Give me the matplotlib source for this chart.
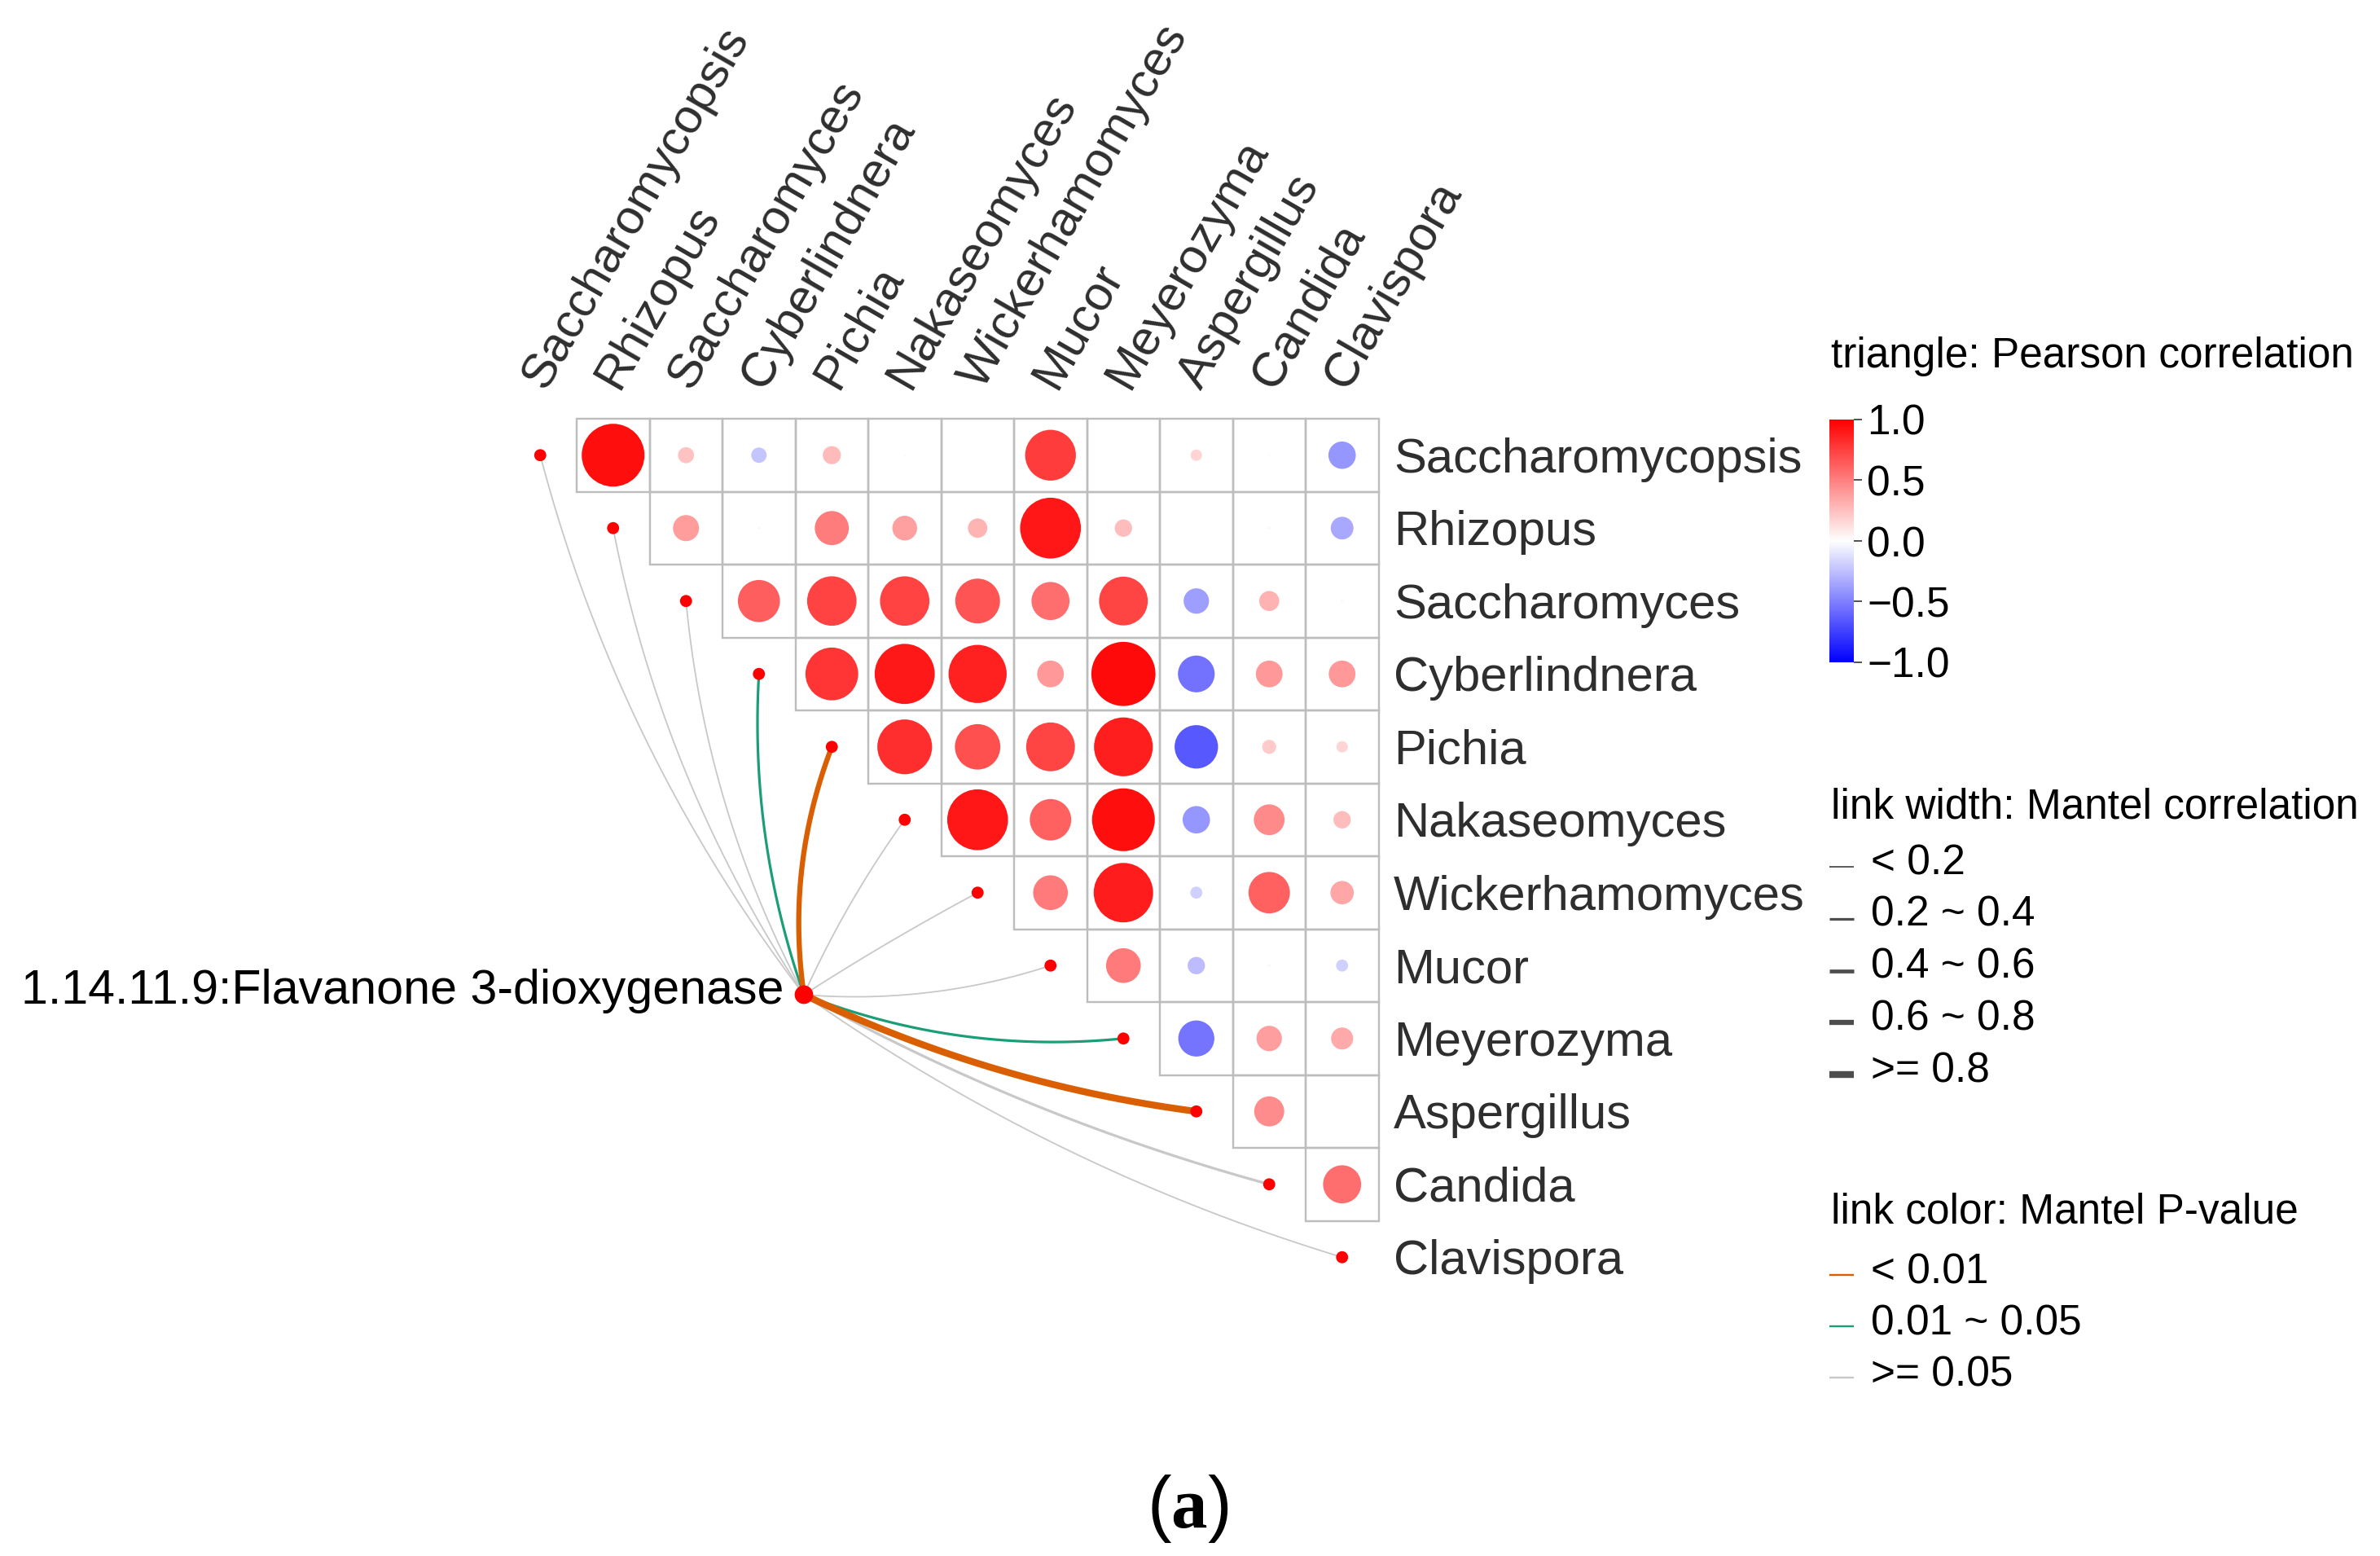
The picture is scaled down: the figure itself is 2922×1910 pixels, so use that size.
import numpy as np
import matplotlib
matplotlib.use("Agg")
import matplotlib.pyplot as plt
from matplotlib.colors import LinearSegmentedColormap, Normalize
from matplotlib.patches import Circle, Rectangle
from matplotlib.cm import ScalarMappable

plt.rcParams["font.family"] = ["Liberation Sans", "DejaVu Sans"]
plt.rcParams["mathtext.fontset"] = "custom"
plt.rcParams["mathtext.rm"] = "Liberation Serif"
plt.rcParams["mathtext.bf"] = "Liberation Serif:bold"

# DATA
genera = ["Saccharomycopsis", "Rhizopus", "Saccharomyces", "Cyberlindnera", "Pichia",
          "Nakaseomyces", "Wickerhamomyces", "Mucor", "Meyerozyma", "Aspergillus",
          "Candida", "Clavispora"]

# Pearson r, upper triangle: row i holds genera[i] vs genera[i+1:]
corr_rows = [
    [0.94, 0.24, -0.23, 0.27, 0.03, 0.02, 0.76, 0.02, 0.17, 0.03, -0.41],
    [0.39, 0.04, 0.51, 0.37, 0.29, 0.91, 0.26, 0.01, 0.04, -0.34],
    [0.63, 0.74, 0.74, 0.67, 0.57, 0.73, -0.38, 0.30, 0.04],
    [0.79, 0.90, 0.87, 0.40, 0.96, -0.55, 0.40, 0.40],
    [0.82, 0.68, 0.73, 0.88, -0.65, 0.21, 0.17],
    [0.91, 0.62, 0.94, -0.41, 0.46, 0.26],
    [0.52, 0.89, -0.18, 0.62, 0.35],
    [0.52, -0.26, 0.04, -0.18],
    [-0.54, 0.38, 0.33],
    [0.45, 0.01],
    [0.57],
]

enzyme = "1.14.11.9:Flavanone 3-dioxygenase"
mantel_r = [0.12, 0.10, 0.14, 0.31, 0.65, 0.15, 0.13, 0.11, 0.28, 0.85, 0.25, 0.12]
mantel_p = [0.21, 0.35, 0.18, 0.03, 0.004, 0.12, 0.27, 0.40, 0.02, 0.002, 0.08, 0.50]

width_bins = [0.2, 0.4, 0.6, 0.8]
width_labels = ["< 0.2", "0.2 ~ 0.4", "0.4 ~ 0.6", "0.6 ~ 0.8", ">= 0.8"]
p_bins = [0.01, 0.05]
p_labels = ["< 0.01", "0.01 ~ 0.05", ">= 0.05"]

# STYLE / LAYOUT (pixels)
W, H, DPI = 2922, 1910, 200
cell = 89.5
gx0, gy0 = 708, 514
max_d = 82
src = (987, 1221)
link_curv = [0.10, 0.10, 0.10, 0.10, 0.13, 0.05, 0.02, -0.10, -0.12, -0.08, -0.06, -0.08]
link_widths = [1.8, 3.2, 4.7, 6.3, 8.4]
link_colors = ["#D95F02", "#1B9E77", "#C8C8C8"]
grid_col = "#BDBDBD"
label_col = "#2E2E2E"


def pt(v):
    return v * 72 / DPI


def cx(k):
    return gx0 + (k - 1) * cell + cell / 2


def cy(k):
    return gy0 + k * cell + cell / 2


cmap = LinearSegmentedColormap.from_list("bwr_", ["#0000FF", "#FFFFFF", "#FF0000"])
norm = Normalize(-1, 1)

fig = plt.figure(figsize=(W / DPI, H / DPI), dpi=DPI)
ax = fig.add_axes([0, 0, 1, 1])
ax.set_xlim(0, W)
ax.set_ylim(H, 0)
ax.axis("off")

# correlation triangle
for i, row in enumerate(corr_rows):
    for off, r in enumerate(row):
        j = i + 1 + off
        ax.add_patch(Rectangle((gx0 + (j - 1) * cell, gy0 + i * cell), cell, cell,
                               fill=False, edgecolor=grid_col, lw=pt(2.4), zorder=1))
        ax.add_patch(Circle((cx(j), cy(i)), max_d / 2 * abs(r),
                            facecolor=cmap(norm(r)), edgecolor="none", zorder=2))

# axis labels
for k, g in enumerate(genera):
    ax.text(cx(k) + 6, 480, g, rotation=60, rotation_mode="anchor", ha="left",
            va="baseline", fontsize=21.5, color=label_col)
    ax.text(1711, cy(k) + 21, g, ha="left", va="baseline", fontsize=21.5, color=label_col)

# mantel links
w_idx = np.digitize(mantel_r, width_bins)
c_idx = np.digitize(mantel_p, p_bins)
t = np.linspace(0, 1, 80)[:, None]
order = np.argsort(-c_idx, kind="stable")
for k in order:
    p0 = np.array(src, float)
    p2 = np.array([cx(k), cy(k)])
    d = p2 - p0
    L = np.hypot(*d)
    nrm = np.array([d[1], -d[0]]) / L
    p1 = (p0 + p2) / 2 + link_curv[k] * L * nrm
    pts = (1 - t) ** 2 * p0 + 2 * (1 - t) * t * p1 + t ** 2 * p2
    ax.plot(pts[:, 0], pts[:, 1], color=link_colors[c_idx[k]], lw=pt(link_widths[w_idx[k]]),
            solid_capstyle="round", zorder=3)
    ax.add_patch(Circle((cx(k), cy(k)), 6, color="#FF0000", zorder=4))
ax.add_patch(Circle(src, 10, color="#FF0000", zorder=4))
ax.text(962, 1232, enzyme, ha="right", va="baseline", fontsize=21.3, color="black")

# legends
ax.text(2248, 451, "triangle: Pearson correlation", fontsize=18.5, va="baseline")
ax.text(2248, 1004, "link width: Mantel correlation", fontsize=18.5, va="baseline")
for m, lab in enumerate(width_labels):
    yb = 1073 + m * 63.8
    ax.plot([2246, 2276], [yb - 9, yb - 9], color="#4D4D4D", lw=pt(link_widths[m]),
            solid_capstyle="butt")
    ax.text(2297, yb, lab, fontsize=18.5, va="baseline")
ax.text(2248, 1501, "link color: Mantel P-value", fontsize=18.5, va="baseline")
for m, lab in enumerate(p_labels):
    yb = 1575 + m * 63
    ax.plot([2246, 2276], [yb - 10, yb - 10], color=link_colors[m], lw=pt(2.4),
            solid_capstyle="butt")
    ax.text(2297, yb, lab, fontsize=18.5, va="baseline")

cax = fig.add_axes([2246 / W, 1 - 813 / H, 30 / W, 298 / H])
cb = fig.colorbar(ScalarMappable(norm=norm, cmap=cmap), cax=cax)
cb.outline.set_visible(False)
cb.set_ticks([-1, -0.5, 0, 0.5, 1])
cb.ax.set_yticklabels(["\u22121.0", "\u22120.5", "0.0", "0.5", "1.0"])
cb.ax.tick_params(length=pt(10), width=pt(2), color="#555555", labelsize=18.5, pad=pt(6))

ax.text(1458, 1875, r"($\mathbf{a}$)", ha="center", va="baseline", fontsize=32)

fig.savefig("out.png", dpi=DPI)
